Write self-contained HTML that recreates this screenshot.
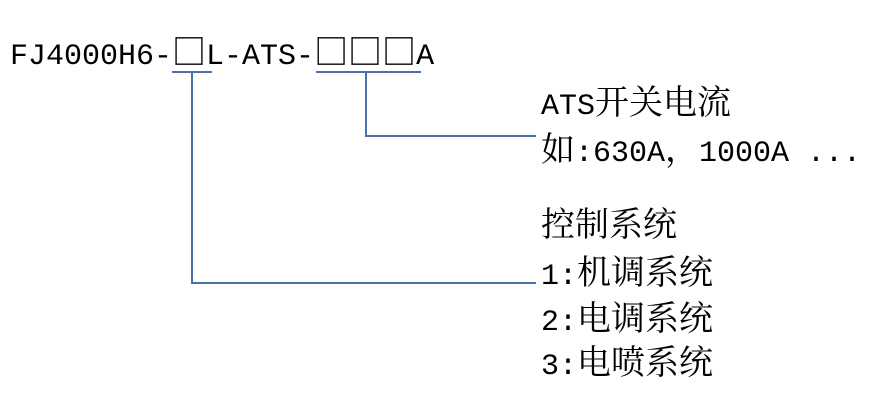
<!DOCTYPE html>
<html><head><meta charset="utf-8"><style>
body{margin:0;width:892px;height:419px;background:#fff;position:relative;overflow:hidden}
.t{position:absolute;white-space:nowrap;font-family:"Liberation Mono","Noto Serif CJK SC",monospace;font-size:30px;line-height:36px;color:#000}
.c{font-family:"Noto Serif CJK SC","Noto Sans CJK SC",serif;font-size:34px}
.l{position:absolute;background:#4a72a8}
</style></head><body>
<div class="t" style="left:10px;top:32px">FJ4000H6-<span class="c">□</span>L-ATS-<span class="c">□□□</span>A</div>
<div class="l" style="left:172px;top:71px;width:40px;height:2px"></div>
<div class="l" style="left:316px;top:71px;width:105px;height:2px"></div>
<div class="l" style="left:191px;top:72px;width:2px;height:212px"></div>
<div class="l" style="left:191px;top:282px;width:345px;height:2px"></div>
<div class="l" style="left:365px;top:72px;width:2px;height:65px"></div>
<div class="l" style="left:365px;top:135px;width:171px;height:2px"></div>
<div class="t" style="left:541px;top:82px">ATS<span class="c">开关电流</span></div>
<div class="t" style="left:541px;top:129px"><span class="c">如</span>:630A<span class="c">，</span>1000A ...</div>
<div class="t" style="left:541px;top:204px"><span class="c">控制系统</span></div>
<div class="t" style="left:541px;top:252px">1:<span class="c">机调系统</span></div>
<div class="t" style="left:541px;top:298px">2:<span class="c">电调系统</span></div>
<div class="t" style="left:541px;top:342px">3:<span class="c">电喷系统</span></div>
</body></html>
